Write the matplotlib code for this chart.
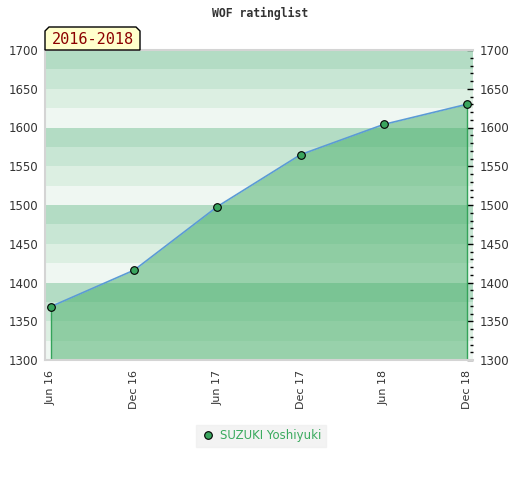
import numpy as np
import matplotlib.pyplot as plt
from matplotlib.patches import Polygon
from matplotlib.ticker import MultipleLocator

# rating values
dates = ['Jun 16', 'Dec 16', 'Jun 17', 'Dec 17', 'Jun 18', 'Dec 18']
ratings = [1369, 1416, 1498, 1565, 1604, 1630]
player = 'SUZUKI Yoshiyuki'
period = '2016-2018'

# stripe shades, repeating every 100 points (top to bottom)
stripe_colors = ['#b3dcc4', '#c8e6d4', '#dcefe2', '#eff7f2']

fig = plt.figure(figsize=(5.2, 4.8), dpi=100)
ax = fig.add_axes([45 / 520, 1 - 360 / 480, 428 / 520, 310 / 480])

x = np.arange(len(dates))
ymin, ymax = 1300, 1700

# background stripes of 25 points
for i, top in enumerate(range(ymax, ymin, -25)):
    ax.axhspan(top - 25, top, color=stripe_colors[i % 4], lw=0, zorder=0)

# filled area under the rating line
ax.fill_between(x, ratings, ymin, color='#43ad66', alpha=0.5, lw=0, zorder=1)
ax.vlines([x[0], x[-1]], ymin, [ratings[0], ratings[-1]], color='#34a35a', lw=1, zorder=2)
ax.plot(x, ratings, color='#5b9bd5', lw=1.2, zorder=3)
ax.plot(x, ratings, 'o', color='#3aa55e', mec='black', mew=0.8, ms=5.5, zorder=4,
        label=player)

ax.set_xlim(-6 / 83.2, 5 + 6 / 83.2)
ax.set_ylim(ymin, ymax)
ax.set_xticks(x)
ax.set_xticklabels(dates, rotation=90, fontsize=8, color='#333333')
ax.tick_params(axis='x', length=0, pad=7)

ax.set_yticks(range(ymin, ymax + 1, 50))
ax.yaxis.set_minor_locator(MultipleLocator(10))
ax.tick_params(axis='y', which='both', left=False, right=True, labelleft=True,
               labelright=True, labelsize=8.5, labelcolor='#333333',
               direction='in', color='black', width=1)
ax.tick_params(axis='y', which='major', length=4, pad=5)
ax.tick_params(axis='y', which='minor', length=2.5)

for side in ['left', 'bottom', 'top']:
    ax.spines[side].set_color('#d4d4d4')
    ax.spines[side].set_linewidth(1.5)
ax.spines['right'].set_visible(False)

fig.text(0.5, 1 - 13 / 480, 'WOF ratinglist', ha='center', va='center',
         family='DejaVu Sans Mono', fontweight='bold', fontsize=8.3, color='#333333')

# period label box with clipped top corners
bx0, bx1, by0, by1 = 45 / 520, 140 / 520, 1 - 50 / 480, 1 - 27 / 480
cx, cy = 4 / 520, 4 / 480
box = Polygon([(bx0, by0), (bx0, by1 - cy), (bx0 + cx, by1), (bx1 - cx, by1),
               (bx1, by1 - cy), (bx1, by0)], closed=True, transform=fig.transFigure,
              facecolor='#ffffcc', edgecolor='black', lw=1, zorder=5)
fig.patches.append(box)
fig.text((bx0 + bx1) / 2, (by0 + by1) / 2 - 1 / 480, period, ha='center', va='center',
         family='DejaVu Sans Mono', fontsize=11, color='#8b0000', zorder=6)

leg = fig.legend(loc='center', bbox_to_anchor=(261 / 520, 1 - 436 / 480), frameon=True,
                 fontsize=8.5, handletextpad=0.45, borderpad=0.4, handlelength=1.2,
                 fancybox=False)
leg.get_frame().set_facecolor('#f0f0f0')
leg.get_frame().set_edgecolor('#f0f0f0')
for t in leg.get_texts():
    t.set_color('#3aaa5e')

fig.savefig('out.png', dpi=100)
